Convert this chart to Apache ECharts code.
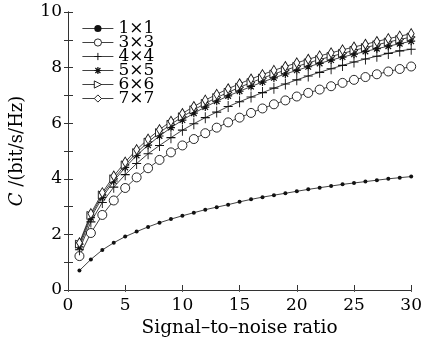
<!DOCTYPE html>
<html><head><meta charset="utf-8">
<script src="https://cdn.jsdelivr.net/npm/echarts@6/dist/echarts.min.js"></script>
<style>html,body{margin:0;padding:0;background:#fff}#c{width:425px;height:343px}</style>
</head><body><div id="c"></div>
<script>
const snr = [1,2,3,4,5,6,7,8,9,10,11,12,13,14,15,16,17,18,19,20,21,22,23,24,25,26,27,28,29,30];
const seriesNames = ['1×1','3×3','4×4','5×5','6×6','7×7'];
const c1x1 = [0.70,1.10,1.44,1.70,1.92,2.10,2.27,2.42,2.55,2.67,2.78,2.89,2.98,3.07,3.17,3.26,3.34,3.41,3.48,3.55,3.62,3.68,3.74,3.80,3.85,3.90,3.95,4.00,4.04,4.08];
const c3x3 = [1.22,2.05,2.70,3.22,3.67,4.05,4.38,4.68,4.95,5.20,5.43,5.64,5.84,6.03,6.20,6.37,6.53,6.68,6.82,6.96,7.09,7.21,7.33,7.45,7.56,7.66,7.76,7.86,7.95,8.04];
const c4x4 = [1.45,2.45,3.15,3.70,4.15,4.55,4.90,5.20,5.48,5.75,5.98,6.20,6.40,6.60,6.77,6.94,7.10,7.26,7.41,7.56,7.70,7.83,7.96,8.08,8.20,8.31,8.41,8.51,8.60,8.66];
const c5x5 = [1.55,2.60,3.33,3.92,4.41,4.84,5.21,5.54,5.84,6.11,6.36,6.58,6.79,6.98,7.15,7.32,7.48,7.63,7.77,7.90,8.03,8.15,8.27,8.38,8.48,8.58,8.68,8.77,8.86,8.95];
const c6x6 = [1.65,2.68,3.42,4.00,4.50,4.94,5.32,5.66,5.96,6.23,6.48,6.71,6.92,7.11,7.29,7.46,7.62,7.77,7.91,8.04,8.17,8.29,8.40,8.51,8.62,8.72,8.82,8.92,9.01,9.10];
const c7x7 = [1.70,2.75,3.50,4.10,4.60,5.05,5.43,5.77,6.07,6.35,6.60,6.83,7.04,7.24,7.42,7.59,7.75,7.90,8.04,8.17,8.30,8.42,8.53,8.64,8.74,8.84,8.94,9.04,9.13,9.22];
const xTicks = [0,5,10,15,20,25,30];
const yTicks = [0,2,4,6,8,10];

const F = 'DejaVu Serif';
const black = '#111';
const plusPath = 'path://M5,0L5,12M0,6L10,6';
const starPath = 'path://M5,0L5,10M0,5L10,5M1.5,1.5L8.5,8.5M8.5,1.5L1.5,8.5';
const styles = [
  {symbol:'circle', symbolSize:4, itemStyle:{color:black,borderColor:black,borderWidth:0}},
  {symbol:'circle', symbolSize:9, itemStyle:{color:'#fff',borderColor:black,borderWidth:0.9}},
  {symbol:plusPath, symbolSize:[9,11], itemStyle:{color:'#fff',borderColor:black,borderWidth:1}},
  {symbol:starPath, symbolSize:[8,8], itemStyle:{color:black,borderColor:black,borderWidth:1.2}},
  {symbol:'triangle', symbolSize:[8,8], symbolRotate:-90, itemStyle:{color:'#fff',borderColor:black,borderWidth:0.9}},
  {symbol:'diamond', symbolSize:[6,10], itemStyle:{color:'#fff',borderColor:black,borderWidth:0.9}}
];
const allData = [c1x1,c3x3,c4x4,c5x5,c6x6,c7x7];
const series = allData.map((d,i)=>Object.assign({
  name: seriesNames[i], type:'line',
  data: d.map((v,j)=>[snr[j],v]),
  lineStyle:{color:black,width:0.8},
  showAllSymbol:true, animation:false
}, styles[i]));

const chart = echarts.init(document.getElementById('c'));
chart.setOption({
  backgroundColor:'#fff',
  animation:false,
  textStyle:{fontFamily:F,color:'#000'},
  grid:{left:62,right:12,top:12,bottom:53},
  legend:{
    orient:'vertical', left:77, top:15,
    itemWidth:31, itemHeight:9, itemGap:-3,
    data: seriesNames,
    lineStyle:{width:0.8},
    itemStyle:{borderWidth:'inherit'},
    textStyle:{fontFamily:F,fontSize:17,color:'#000'}
  },
  xAxis:[{
    type:'value', min:0, max:30, interval:5,
    name:'Signal–to–noise ratio', nameLocation:'middle', nameGap:27,
    nameTextStyle:{fontFamily:F,fontSize:18.5,color:'#000',verticalAlign:'top'},
    axisLine:{lineStyle:{color:'#333',width:1}},
    axisTick:{inside:true,length:5,lineStyle:{color:'#333'}},
    axisLabel:{fontFamily:F,fontSize:17,color:'#000',margin:7,
      formatter:v=>xTicks.includes(v)?String(v):''},
    splitLine:{show:false}
  },{
    type:'value', min:0, max:30, interval:5, position:'top',
    axisLine:{show:true,lineStyle:{color:'#333',width:1}},
    axisTick:{show:true,inside:true,length:2,lineStyle:{color:'#555'}},
    axisLabel:{show:false}, splitLine:{show:false}
  }],
  yAxis:[{
    type:'value', min:0, max:10, interval:1,
    name:'{i|C} /(bit/s/Hz)', nameLocation:'middle', nameGap:42, nameRotate:90,
    nameTextStyle:{fontFamily:F,fontSize:18,color:'#000',
      rich:{i:{fontFamily:F,fontStyle:'italic',fontSize:18,color:'#000'}}},
    axisLine:{show:true,lineStyle:{color:'#333',width:1}},
    axisTick:{inside:true,length:5,lineStyle:{color:'#333'}},
    axisLabel:{fontFamily:F,fontSize:17,color:'#000',margin:6,
      formatter:v=>yTicks.includes(v)?String(v):''},
    splitLine:{show:false}
  },{
    type:'value', min:0, max:10, interval:1, position:'right',
    axisLine:{show:true,lineStyle:{color:'#333',width:1}},
    axisTick:{inside:true,length:4,lineStyle:{color:'#333'}},
    axisLabel:{show:false}, splitLine:{show:false}
  }],
  series: series
});
</script></body></html>
